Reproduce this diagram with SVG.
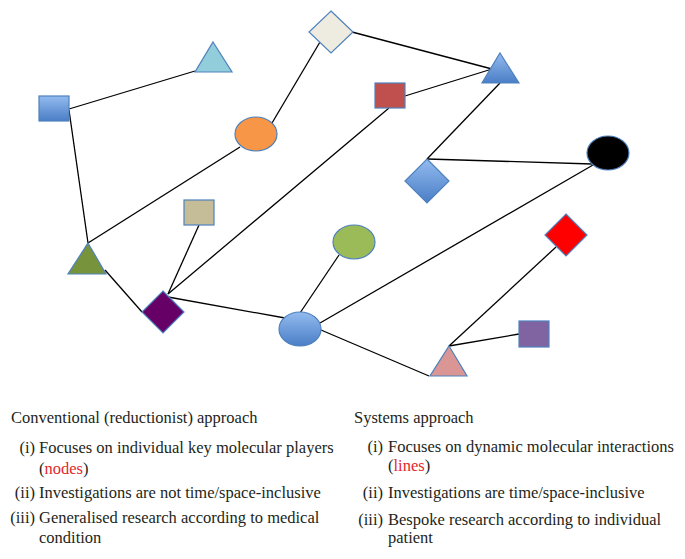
<svg xmlns="http://www.w3.org/2000/svg" width="685" height="559" viewBox="0 0 685 559">
<style>
.edge{stroke:#000;stroke-width:1.3;fill:none}
.n{stroke:#4f81bd;stroke-width:1.2}
.t{font-family:"Liberation Serif","Times New Roman",serif;font-size:16.5px;fill:#231f20}
.lab{text-anchor:end}
.red{fill:#e3262b}
</style>
<defs>
<linearGradient id="blue" x1="0" y1="0" x2="0" y2="1">
<stop offset="0" stop-color="#93bbef"/>
<stop offset="1" stop-color="#4a7ec6"/>
</linearGradient>
</defs>
<rect width="685" height="559" fill="#fff"/>
<g id="connectors">
<line class="edge" x1="69" y1="109" x2="195" y2="71"/>
<line class="edge" x1="69" y1="110" x2="88" y2="243"/>
<line class="edge" x1="88" y1="243" x2="240" y2="147"/>
<line class="edge" x1="272" y1="123" x2="320" y2="42"/>
<line class="edge" x1="352" y1="32" x2="492" y2="69"/>
<line class="edge" x1="405" y1="96" x2="492" y2="69"/>
<line class="edge" x1="500" y1="83" x2="427" y2="159"/>
<line class="edge" x1="427" y1="159" x2="592" y2="164"/>
<line class="edge" x1="389" y1="108" x2="168" y2="294"/>
<line class="edge" x1="199" y1="225" x2="168" y2="294"/>
<line class="edge" x1="105" y1="270" x2="142" y2="312"/>
<line class="edge" x1="168" y1="297" x2="285" y2="318"/>
<line class="edge" x1="300" y1="313" x2="339" y2="255"/>
<line class="edge" x1="320" y1="323" x2="593" y2="165"/>
<line class="edge" x1="321" y1="330" x2="429" y2="376"/>
<line class="edge" x1="556" y1="247" x2="449" y2="346"/>
<line class="edge" x1="449" y1="346" x2="519" y2="334"/>
</g>
<g id="n-blue-square"><rect class="n" x="39" y="96" width="30" height="25" fill="url(#blue)"/></g>
<g id="n-lightblue-triangle"><polygon class="n" points="213,42 232,72 195,72" fill="#92cddc"/></g>
<g id="n-gray-diamond"><polygon class="n" points="331,11 353,32 331,53 309,32" fill="#eeece1"/></g>
<g id="n-orange-ellipse"><ellipse class="n" cx="256" cy="134" rx="21" ry="17" fill="#f79646"/></g>
<g id="n-blue-triangle"><polygon class="n" points="500,53 519,83 482,83" fill="url(#blue)"/></g>
<g id="n-red-square"><rect class="n" x="375" y="83" width="30" height="25" fill="#c0504d"/></g>
<g id="n-blue-diamond"><polygon class="n" points="427,159 449,181 427,203 405,181" fill="url(#blue)"/></g>
<g id="n-black-ellipse"><ellipse class="n" cx="608" cy="153" rx="21" ry="17" fill="#000"/></g>
<g id="n-tan-square"><rect class="n" x="184" y="200" width="30" height="25" fill="#c4bd97"/></g>
<g id="n-green-triangle"><polygon class="n" points="88,243 106,274 68,274" fill="#77933c"/></g>
<g id="n-purple-diamond"><polygon class="n" points="163,291 184,312 163,333 142,312" fill="#660066"/></g>
<g id="n-green-ellipse"><ellipse class="n" cx="354" cy="242" rx="21" ry="17" fill="#9bbb59"/></g>
<g id="n-blue-ellipse"><ellipse class="n" cx="300" cy="329" rx="21" ry="17" fill="url(#blue)"/></g>
<g id="n-red-diamond"><polygon class="n" points="566,214 587,235 566,256 545,235" fill="#ff0000"/></g>
<g id="n-pink-triangle"><polygon class="n" points="449,346 467,376 430,376" fill="#d99694"/></g>
<g id="n-purple-square"><rect class="n" x="519" y="321" width="30" height="26" fill="#8064a2"/></g>
<g id="text-left">
<text class="t" x="11" y="423">Conventional (reductionist) approach</text>
<text class="t lab" x="35" y="453">(i)</text>
<text class="t" x="39" y="453">Focuses on individual key molecular players</text>
<text class="t" x="39" y="474">(<tspan class="red">nodes</tspan>)</text>
<text class="t lab" x="35" y="498">(ii)</text>
<text class="t" x="39" y="498">Investigations are not time/space-inclusive</text>
<text class="t lab" x="35" y="523">(iii)</text>
<text class="t" x="39" y="523">Generalised research according to medical</text>
<text class="t" x="39" y="543">condition</text>
</g>
<g id="text-right">
<text class="t" x="354" y="423">Systems approach</text>
<text class="t lab" x="383" y="452">(i)</text>
<text class="t" x="388" y="452">Focuses on dynamic molecular interactions</text>
<text class="t" x="388" y="471">(<tspan class="red">lines</tspan>)</text>
<text class="t lab" x="383" y="498">(ii)</text>
<text class="t" x="388" y="498">Investigations are time/space-inclusive</text>
<text class="t lab" x="383" y="525">(iii)</text>
<text class="t" x="388" y="525">Bespoke research according to individual</text>
<text class="t" x="388" y="543">patient</text>
</g>
</svg>
